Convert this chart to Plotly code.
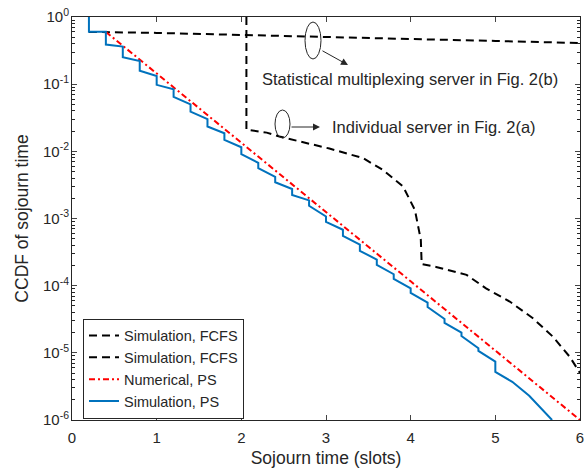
import plotly.graph_objects as go

# ---------------- data ----------------
# Simulation, PS (blue staircase): drop at each step_x from "before" to "after"
ps_step_x = [0.2, 0.4, 0.6, 0.8, 1.0, 1.2, 1.4, 1.6, 1.8, 2.0, 2.2, 2.4, 2.6,
             2.8, 3.0, 3.2, 3.4, 3.6, 3.8, 4.0, 4.2, 4.4, 4.6, 4.8, 5.0]
ps_before = [1.0, 0.603, 0.363, 0.221, 0.132, 0.084, 0.0501, 0.0302, 0.0186,
             0.0115, 0.00676, 0.00417, 0.00275, 0.00186, 0.00107, 6.8e-4,
             4.1e-4, 2.45e-4, 1.48e-4, 9.1e-5, 5.6e-5, 3.2e-5, 2.0e-5,
             1.17e-5, 7.4e-6]
ps_after = [0.603, 0.389, 0.251, 0.158, 0.0977, 0.0646, 0.0389, 0.0234,
            0.0148, 0.00912, 0.00562, 0.00347, 0.00224, 0.00155, 8.9e-4,
            5.5e-4, 3.3e-4, 2.04e-4, 1.26e-4, 7.8e-5, 4.8e-5, 2.8e-5,
            1.78e-5, 1.07e-5, 5.2e-6]
ps_tail_x = [5.2, 5.4, 5.67]
ps_tail_y = [3.7e-6, 2.3e-6, 1.0e-6]

# Numerical, PS (red dash-dot)
num_x = [0.4, 1.0, 2.0, 3.0, 4.0, 5.0, 6.0]
num_y = [0.60, 0.145, 0.0135, 1.25e-3, 1.16e-4, 1.08e-5, 1.0e-6]

# Simulation, FCFS - statistical multiplexing server (Fig. 2(b))
mux_x = [0.2, 1.0, 2.0, 3.0, 4.0, 5.0, 6.0]
mux_y = [0.60, 0.58, 0.54, 0.50, 0.47, 0.44, 0.41]

# Simulation, FCFS - individual server (Fig. 2(a))
ind_x = [2.06, 2.06, 2.3, 2.45, 3.04, 3.44, 3.67, 3.91, 4.05, 4.12,
         4.13, 4.30, 4.66, 4.89, 5.17, 5.44, 5.68, 5.88, 6.0]
ind_y = [1.0, 0.021, 0.019, 0.0166, 0.011, 0.0079, 0.0053, 0.003,
         0.00134, 4.8e-4, 2.1e-4, 1.9e-4, 1.45e-4, 9.1e-5, 5.8e-5, 3.3e-5,
         1.74e-5, 8.7e-6, 5.0e-6]

y_tick_vals = [1e-6, 1e-5, 1e-4, 1e-3, 1e-2, 1e-1, 1e0]
y_tick_text = ["10<sup>-6</sup>", "10<sup>-5</sup>", "10<sup>-4</sup>",
               "10<sup>-3</sup>", "10<sup>-2</sup>", "10<sup>-1</sup>",
               "10<sup>0</sup>"]
y_minor_mult = [2, 3, 4, 5, 6, 7, 8, 9]
x_tick_vals = [0, 1, 2, 3, 4, 5, 6]

# build staircase polyline for the blue curve
ps_x, ps_y = [], []
for sx, b, a in zip(ps_step_x, ps_before, ps_after):
    ps_x += [sx, sx]
    ps_y += [b, a]
ps_x += ps_tail_x
ps_y += ps_tail_y

y_minor_vals = [m * d for d in y_tick_vals[:-1] for m in y_minor_mult]

FONT = "Arial, Liberation Sans, sans-serif"
AX = "#262626"

fig = go.Figure()
fig.add_trace(go.Scatter(x=mux_x, y=mux_y, mode="lines", name="Simulation, FCFS",
                         line=dict(color="black", width=2, dash="8px,5px")))
fig.add_trace(go.Scatter(x=ind_x, y=ind_y, mode="lines", name="Simulation, FCFS",
                         line=dict(color="black", width=2, dash="8px,5px")))
fig.add_trace(go.Scatter(x=num_x, y=num_y, mode="lines", name="Numerical, PS",
                         line=dict(color="#FF0000", width=2, dash="6px,3px,2px,3px")))
fig.add_trace(go.Scatter(x=ps_x, y=ps_y, mode="lines", name="Simulation, PS",
                         line=dict(color="#0072BD", width=2)))
# carrier for the minor-tick axis
fig.add_trace(go.Scatter(x=[None], y=[None], yaxis="y2", showlegend=False,
                         hoverinfo="skip", mode="lines"))

PL, PR, PT, PB = 72, 580, 17, 420


def px(x):
    return (x - PL) / (PR - PL)


def py(y):
    return (PB - y) / (PB - PT)


# ellipses
fig.add_shape(type="circle", xref="paper", yref="paper",
              x0=px(305), x1=px(321), y0=py(59), y1=py(22),
              line=dict(color="#262626", width=1))
fig.add_shape(type="circle", xref="paper", yref="paper",
              x0=px(275), x1=px(290), y0=py(138), y1=py(110),
              line=dict(color="#262626", width=1))

# arrows
fig.add_annotation(x=px(348), y=py(65), xref="paper", yref="paper",
                   ax=-27, ay=-15, showarrow=True, arrowhead=2, arrowsize=1.4,
                   arrowwidth=1, arrowcolor="#262626", text="")
fig.add_annotation(x=px(320), y=py(127), xref="paper", yref="paper",
                   ax=-30, ay=0, showarrow=True, arrowhead=2, arrowsize=1.4,
                   arrowwidth=1, arrowcolor="#262626", text="")

fig.add_annotation(x=px(410), y=py(79), xref="paper", yref="paper",
                   text="Statistical multiplexing server in Fig. 2(b)",
                   showarrow=False, xanchor="center", yanchor="middle",
                   font=dict(family=FONT, size=16.5, color=AX))
fig.add_annotation(x=px(330), y=py(127.5), xref="paper", yref="paper",
                   text="Individual server in Fig. 2(a)",
                   showarrow=False, xanchor="left", yanchor="middle",
                   font=dict(family=FONT, size=16.5, color=AX))

fig.update_layout(
    width=587, height=472,
    margin=dict(l=PL, r=587 - PR, t=PT, b=472 - PB, autoexpand=False),
    paper_bgcolor="white", plot_bgcolor="white",
    font=dict(family=FONT, size=14.5, color=AX),
    showlegend=True,
    legend=dict(x=px(83), y=py(368.5), xanchor="left", yanchor="middle",
                bgcolor="white", bordercolor=AX, borderwidth=1,
                font=dict(family=FONT, size=14.5, color=AX),
                itemwidth=30, tracegroupgap=0),
    xaxis=dict(range=[0, 6], tickvals=x_tick_vals, ticks="inside", ticklen=5,
               showline=True, linecolor=AX, linewidth=1, mirror="ticks",
               showgrid=False, zeroline=False, automargin=False,
               ticklabelstandoff=4,
               tickfont=dict(family=FONT, size=15, color=AX),
               title=dict(text="Sojourn time (slots)", standoff=6,
                          font=dict(family=FONT, size=17.5, color=AX))),
    yaxis=dict(type="log", range=[-6, 0], tickvals=y_tick_vals,
               ticktext=y_tick_text, ticks="inside", ticklen=5,
               showline=True, linecolor=AX, linewidth=1, mirror="ticks",
               showgrid=False, zeroline=False, automargin=False,
               ticklabelstandoff=-1,
               tickfont=dict(family=FONT, size=15, color=AX),
               title=dict(text="CCDF of sojourn time", standoff=9,
                          font=dict(family=FONT, size=17.5, color=AX))),
    yaxis2=dict(type="log", range=[-6, 0], overlaying="y", side="left",
                tickvals=y_minor_vals, ticks="inside", ticklen=3,
                tickcolor=AX, showticklabels=False, showline=False,
                mirror="ticks", showgrid=False, zeroline=False,
                automargin=False),
)

fig.write_html("out.html", config={"displayModeBar": False},
               post_script="document.body.style.margin='0';"
                           "document.documentElement.style.overflow='hidden';")
